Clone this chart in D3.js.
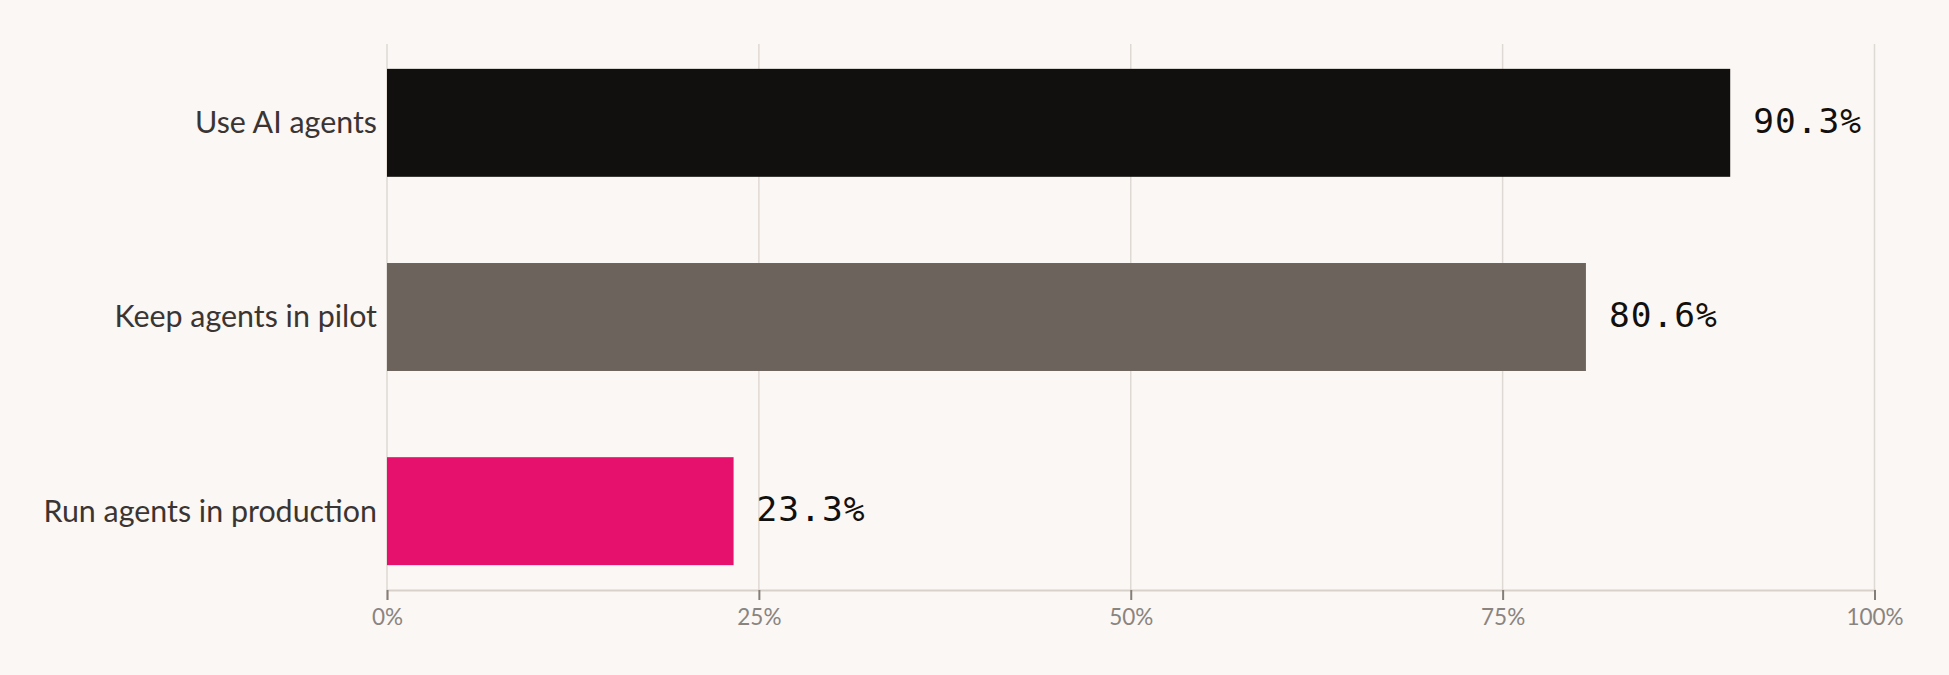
<!DOCTYPE html>
<html>
<head>
<meta charset="utf-8">
<script src="https://cdn.jsdelivr.net/npm/d3@7"></script>
<style>
  html, body { margin: 0; padding: 0; background: #faf7f4; }
  svg { display: block; }
</style>
</head>
<body>
<svg id="chart" width="1949" height="675"></svg>
<script>
const categories = ["Use AI agents", "Keep agents in pilot", "Run agents in production"];
const values = [90.3, 80.6, 23.3];
const barColors = ["#12100e", "#6b635c", "#e5116c"];
const tickValues = [0, 25, 50, 75, 100];
const tickLabels = ["0%", "25%", "50%", "75%", "100%"];

const W = 1949, H = 675;
const margin = { top: 44, right: 74.5, bottom: 85, left: 387 };
const svg = d3.select("#chart");
svg.append("rect").attr("width", W).attr("height", H).attr("fill", "#faf7f4");

const x = d3.scaleLinear().domain([0, 100]).range([margin.left, W - margin.right]);
const y = d3.scaleBand().domain(categories).range([margin.top, H - margin.bottom])
  .paddingInner(0.444).paddingOuter(0.128);

// gridlines
svg.append("g").selectAll("line").data(tickValues).join("line")
  .attr("x1", d => x(d)).attr("x2", d => x(d))
  .attr("y1", margin.top).attr("y2", H - margin.bottom)
  .attr("stroke", "#dfd9d3").attr("stroke-width", 1.5);

// x axis
const xAxis = d3.axisBottom(x).tickValues(tickValues)
  .tickFormat((d, i) => tickLabels[i]).tickSize(10).tickPadding(9);
const gx = svg.append("g").attr("transform", `translate(0,${H - margin.bottom})`).call(xAxis);
gx.select(".domain").attr("stroke", "#d8d1ca").attr("stroke-width", 2);
gx.selectAll(".tick line").attr("stroke", "#857d77").attr("stroke-width", 2);
gx.selectAll(".tick text").attr("fill", "#8a847f")
  .style("font-family", "Lato, sans-serif").style("font-size", "22.5px");

// bars
const data = categories.map((c, i) => ({ c, v: values[i], color: barColors[i] }));
svg.append("g").selectAll("rect").data(data).join("rect")
  .attr("x", x(0)).attr("y", d => y(d.c))
  .attr("width", d => x(d.v) - x(0)).attr("height", y.bandwidth())
  .attr("fill", d => d.color);

// category labels
svg.append("g").selectAll("text").data(data).join("text")
  .attr("x", x(0) - 10).attr("y", d => y(d.c) + y.bandwidth() / 2)
  .attr("dy", "0.34em").attr("text-anchor", "end")
  .attr("fill", "#3a3532")
  .style("font-family", "Lato, sans-serif").style("font-size", "30.4px")
  .text(d => d.c);

// value labels
svg.append("g").selectAll("text").data(data).join("text")
  .attr("x", d => x(d.v) + 23).attr("y", d => y(d.c) + y.bandwidth() / 2)
  .attr("dy", "0.29em").attr("text-anchor", "start")
  .attr("fill", "#12100e")
  .style("font-family", "'DejaVu Sans Mono', monospace").style("font-size", "34.5px")
  .style("letter-spacing", "1px")
  .text(d => d.v.toFixed(1) + "%");
</script>
</body>
</html>
